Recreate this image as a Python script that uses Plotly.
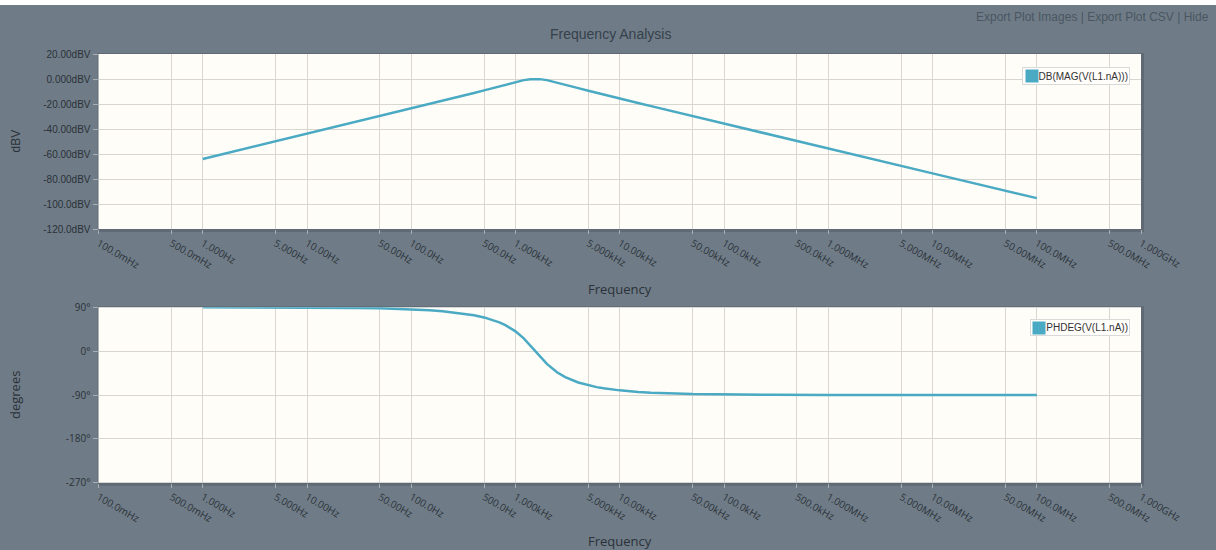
import plotly.graph_objects as go

# ---------------- data ----------------
freq_hz = [1, 3, 10, 30, 50, 100, 150, 200, 300, 400,
           500, 600, 700, 800, 900, 1000, 1200, 1400, 1550, 1700,
           2000, 2500, 3000, 4000, 5000, 6000, 7000, 10000, 15000, 20000,
           50000, 1e5, 3e5, 1e6, 1e7, 1e8]
mag_dbv = [-64.0, -54.4, -44.0, -34.3, -29.9, -23.8, -20.2, -17.6, -13.9, -11.2,
           -9.1, -7.3, -5.8, -4.5, -3.4, -2.4, -0.9, -0.2, 0.0, -0.1,
           -0.9, -2.8, -4.5, -7.3, -9.4, -11.1, -12.5, -15.7, -19.2, -21.7,
           -29.7, -35.7, -45.2, -55.6, -75.5, -95.3]
phase_deg = [90.0, 89.9, 89.6, 88.8, 88.1, 86.1, 84.1, 82.1, 78.1, 73.8,
             69.2, 64.4, 59.2, 53.5, 47.3, 40.7, 26.2, 11.0, 0.0, -10.0,
             -26.1, -43.3, -53.4, -64.4, -70.2, -73.8, -76.2, -80.5, -83.7, -85.3,
             -88.1, -89.1, -89.7, -89.9, -90.0, -90.0]

x_tick_vals = [0.1, 0.5, 1, 5, 10, 50, 100, 500, 1e3, 5e3, 1e4, 5e4, 1e5, 5e5,
               1e6, 5e6, 1e7, 5e7, 1e8, 5e8, 1e9]
x_tick_text = ["100.0mHz", "500.0mHz", "1.000Hz", "5.000Hz", "10.00Hz", "50.00Hz",
               "100.0Hz", "500.0Hz", "1.000kHz", "5.000kHz", "10.00kHz", "50.00kHz",
               "100.0kHz", "500.0kHz", "1.000MHz", "5.000MHz", "10.00MHz", "50.00MHz",
               "100.0MHz", "500.0MHz", "1.000GHz"]
mag_tick_vals = [-120, -100, -80, -60, -40, -20, 0, 20]
mag_tick_text = ["-120.0dBV", "-100.0dBV", "-80.00dBV", "-60.00dBV", "-40.00dBV",
                 "-20.00dBV", "0.000dBV", "20.00dBV"]
phase_tick_vals = [-270, -180, -90, 0, 90]
phase_tick_text = ["-270°", "-180°", "-90°", "0°", "90°"]

mag_name = "DB(MAG(V(L1.nA)))"
phase_name = "PHDEG(V(L1.nA))"

# ---------------- styling ----------------
W, H = 1216, 550
PAGE = "#6f7c87"
PLOT_BG = "#fffdf8"
GRID = "#d9d6d0"
LINE = "#4aa9c3"
TXT = "#2b3138"


def px(x):
    return x / W


def py(y):
    return 1 - y / H


# plot rectangles in pixels
PL, PR = 98.5, 1141.0
T1, B1 = 54.0, 229.0
T2, B2 = 307.3, 482.7

fig = go.Figure()
fig.add_trace(go.Scatter(x=freq_hz, y=mag_dbv, mode="lines", name=mag_name,
                         line=dict(color=LINE, width=2.5), showlegend=False,
                         xaxis="x", yaxis="y", hoverinfo="skip"))
fig.add_trace(go.Scatter(x=freq_hz, y=phase_deg, mode="lines", name=phase_name,
                         line=dict(color=LINE, width=2.5), showlegend=False,
                         xaxis="x2", yaxis="y2", hoverinfo="skip"))

xcommon = dict(type="log", range=[-1, 9], tickmode="array", tickvals=x_tick_vals,
               ticktext=x_tick_text, tickangle=30, showgrid=True, gridcolor=GRID,
               gridwidth=1, zeroline=False, showline=False, ticks="outside",
               ticklen=4, tickcolor="#a7aeb4",
               tickfont=dict(family="Open Sans", size=10, color=TXT),
               automargin=False, fixedrange=True)
ycommon = dict(showgrid=True, gridcolor=GRID, gridwidth=1, zeroline=False,
               showline=False, ticks="outside", ticklen=5, tickcolor="#a7aeb4",
               automargin=False, fixedrange=True, tickmode="array")

fig.update_layout(
    width=W, height=H,
    margin=dict(l=0, r=0, t=0, b=0),
    paper_bgcolor=PAGE, plot_bgcolor=PLOT_BG,
    showlegend=False,
    xaxis=dict(domain=[px(PL), px(PR)], anchor="y", **xcommon),
    yaxis=dict(domain=[py(B1), py(T1)], anchor="x", range=[-120, 20],
               tickvals=mag_tick_vals, ticktext=mag_tick_text,
               tickfont=dict(family="Liberation Sans", size=10, color=TXT), **ycommon),
    xaxis2=dict(domain=[px(PL), px(PR)], anchor="y2", **xcommon),
    yaxis2=dict(domain=[py(B2), py(T2)], anchor="x2", range=[-270, 90],
                tickvals=phase_tick_vals, ticktext=phase_tick_text,
                tickfont=dict(family="Open Sans", size=10, color=TXT), **ycommon),
)

shapes = [
    # white strip at very top of the page
    dict(type="rect", xref="paper", yref="paper", x0=0, x1=1, y0=py(5), y1=1,
         fillcolor="#ffffff", line=dict(width=0), layer="below"),
]
for (t, b) in [(T1, B1), (T2, B2)]:
    # drop shadow around plot area
    shapes.append(dict(type="rect", xref="paper", yref="paper",
                       x0=px(PL - 1), x1=px(PR + 3), y0=py(b + 3), y1=py(t - 1),
                       fillcolor="#5f6a74", line=dict(width=0), layer="below"))
    # plot background on top of the shadow
    shapes.append(dict(type="rect", xref="paper", yref="paper",
                       x0=px(PL), x1=px(PR), y0=py(b), y1=py(t),
                       fillcolor=PLOT_BG, line=dict(width=0), layer="below"))
fig.update_layout(shapes=shapes)

ann = []
# title and export links
ann.append(dict(text="Frequency Analysis", x=px(610), y=py(34), xref="paper", yref="paper",
                showarrow=False, xanchor="center", yanchor="middle",
                font=dict(family="Liberation Sans", size=14, color="#36414b")))
ann.append(dict(text="Export Plot Images | Export Plot CSV | Hide", x=px(1211), y=py(17),
                xref="paper", yref="paper", showarrow=False, xanchor="right", yanchor="middle",
                font=dict(family="Liberation Sans", size=12, color="#4a5661")))
# axis titles
for yy in (289, 541):
    ann.append(dict(text="Frequency", x=px((PL + PR) / 2), y=py(yy), xref="paper", yref="paper",
                    showarrow=False, xanchor="center", yanchor="middle",
                    font=dict(family="Open Sans", size=13, color=TXT)))
ann.append(dict(text="dBV", x=px(15), y=py((T1 + B1) / 2), xref="paper", yref="paper",
                showarrow=False, textangle=-90, xanchor="center", yanchor="middle",
                font=dict(family="Liberation Sans", size=12, color=TXT)))
ann.append(dict(text="degrees", x=px(15), y=py((T2 + B2) / 2), xref="paper", yref="paper",
                showarrow=False, textangle=-90, xanchor="center", yanchor="middle",
                font=dict(family="Open Sans", size=13, color=TXT)))

# legend boxes (box + coloured square)
for name, (bx0, bx1, by0, by1), sq in [
        (mag_name, (1022, 1130, 67, 85), (1031.5, 76)),
        (phase_name, (1030, 1130, 319, 336), (1039, 327.5))]:
    ann.append(dict(text=name, x=px(bx1), y=py(by0), xref="paper", yref="paper",
                    showarrow=False, xanchor="right", yanchor="top", align="right",
                    width=bx1 - bx0 - 4, height=by1 - by0 - 4, valign="middle",
                    bgcolor="#fffefb", bordercolor="#d9d9d9", borderwidth=1, borderpad=1,
                    font=dict(family="Liberation Sans", size=10, color="#333333")))
    ann.append(dict(text=" ", x=px(sq[0]), y=py(sq[1]), xref="paper", yref="paper",
                    showarrow=False, xanchor="center", yanchor="middle",
                    width=12, height=12, bgcolor=LINE, borderpad=0,
                    font=dict(size=1)))
fig.update_layout(annotations=ann)

fig.write_html("out.html", config={"displayModeBar": False},
               post_script="document.body.style.margin='0';")
